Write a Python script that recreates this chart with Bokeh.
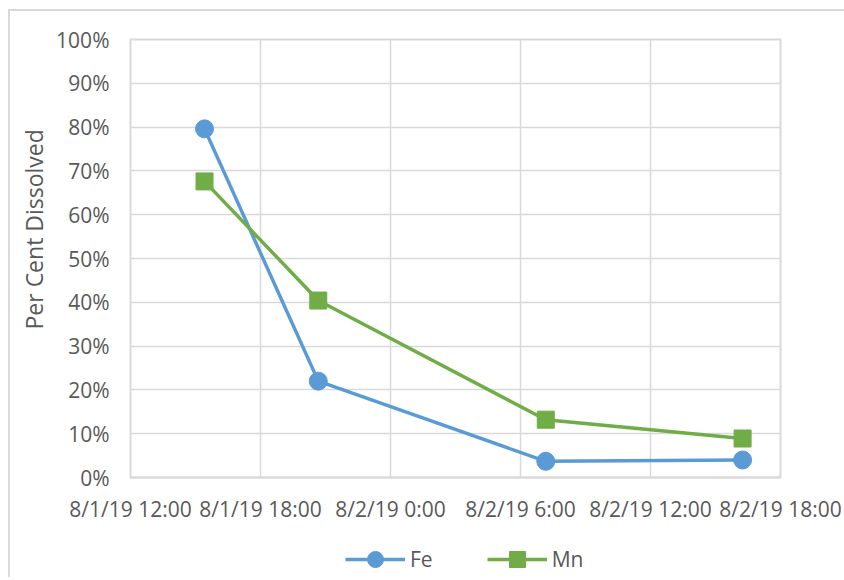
from datetime import datetime

from bokeh.plotting import figure
from bokeh.layouts import column
from bokeh.models import (ColumnDataSource, FixedTicker, NumeralTickFormatter,
                          Range1d, Legend, LegendItem, Title)
from bokeh.embed import file_html
from bokeh.resources import INLINE

# sampling times and dissolved fractions
sample_times = [datetime(2019, 8, 1, 15, 25), datetime(2019, 8, 1, 20, 40),
                datetime(2019, 8, 2, 7, 10), datetime(2019, 8, 2, 16, 15)]
fe_dissolved = [0.796, 0.220, 0.037, 0.040]
mn_dissolved = [0.676, 0.404, 0.132, 0.089]

tick_times = [datetime(2019, 8, 1, 12), datetime(2019, 8, 1, 18), datetime(2019, 8, 2, 0),
              datetime(2019, 8, 2, 6), datetime(2019, 8, 2, 12), datetime(2019, 8, 2, 18)]
tick_labels = ["8/1/19 12:00", "8/1/19 18:00", "8/2/19 0:00",
               "8/2/19 6:00", "8/2/19 12:00", "8/2/19 18:00"]
y_ticks = [i / 10 for i in range(11)]

FONT = "Open Sans"
TEXT = "#595959"
GRID = "#d9d9d9"
FE_COLOR = "#5B9BD5"
MN_COLOR = "#70AD47"

def ms(dt):
    return (dt - datetime(1970, 1, 1)).total_seconds() * 1000.0

src = ColumnDataSource(dict(t=sample_times, fe=fe_dissolved, mn=mn_dissolved))

# main chart
p = figure(width=834, height=514, x_axis_type="datetime",
           x_range=Range1d(tick_times[0], tick_times[-1]), y_range=Range1d(0, 1),
           output_backend="svg", toolbar_location=None,
           min_border_left=120, min_border_right=64, min_border_top=28, min_border_bottom=46)
p.background_fill_color = "white"
p.border_fill_color = "white"
p.outline_line_color = GRID
p.outline_line_width = 2

p.xaxis.ticker = FixedTicker(ticks=[ms(t) for t in tick_times])
p.xaxis.major_label_overrides = {ms(t): lab for t, lab in zip(tick_times, tick_labels)}
p.yaxis.ticker = FixedTicker(ticks=y_ticks)
p.yaxis.formatter = NumeralTickFormatter(format="0%")
for ax in (p.xaxis[0], p.yaxis[0]):
    ax.axis_line_color = None
    ax.major_tick_line_color = None
    ax.minor_tick_line_color = None
    ax.major_tick_out = 0
    ax.major_tick_in = 0
    ax.major_label_text_font = FONT
    ax.major_label_text_font_size = "21px"
    ax.major_label_text_color = TEXT
p.xaxis.axis_line_color = GRID
p.xaxis.axis_line_width = 2
p.xaxis.major_label_standoff = 17
p.yaxis.major_label_standoff = 21

p.xgrid.grid_line_color = GRID
p.ygrid.grid_line_color = GRID
p.xgrid.grid_line_width = 1.5
p.ygrid.grid_line_width = 1.5

fe_line = p.line("t", "fe", source=src, line_color=FE_COLOR, line_width=3.5)
fe_mark = p.scatter("t", "fe", source=src, marker="circle", size=18,
                    fill_color=FE_COLOR, line_color=FE_COLOR)
mn_line = p.line("t", "mn", source=src, line_color=MN_COLOR, line_width=3.5)
mn_mark = p.scatter("t", "mn", source=src, marker="square", size=17,
                    fill_color=MN_COLOR, line_color=MN_COLOR)

p.add_layout(Title(text="Per Cent Dissolved", align="left", offset=148, standoff=7,
                   text_font=FONT, text_font_size="23px", text_font_style="normal",
                   text_color=TEXT), "left")

# legend strip beneath the chart; its renderers share the series data but lie
# outside the strip's own ranges, so only the legend swatches show
q = figure(width=834, height=52, x_range=Range1d(0, 1), y_range=Range1d(0, 1),
           output_backend="svg", toolbar_location=None,
           x_axis_location=None, y_axis_location=None,
           min_border_left=120, min_border_right=64, min_border_top=0, min_border_bottom=0)
q.outline_line_color = None
q.grid.visible = False
q_fe_line = q.line("t", "fe", source=src, line_color=FE_COLOR, line_width=3.5)
q_fe_mark = q.scatter("t", "fe", source=src, marker="circle", size=18,
                      fill_color=FE_COLOR, line_color=FE_COLOR)
q_mn_line = q.line("t", "mn", source=src, line_color=MN_COLOR, line_width=3.5)
q_mn_mark = q.scatter("t", "mn", source=src, marker="square", size=17,
                      fill_color=MN_COLOR, line_color=MN_COLOR)

legend = Legend(items=[LegendItem(label="Fe", renderers=[q_fe_line, q_fe_mark]),
                       LegendItem(label="Mn", renderers=[q_mn_line, q_mn_mark])],
                orientation="horizontal", location=(215, -2),
                glyph_width=60, glyph_height=40, label_height=24, label_standoff=5,
                spacing=54, padding=0, margin=0,
                border_line_color=None, background_fill_alpha=0,
                label_text_font=FONT, label_text_font_size="21px", label_text_color=TEXT)
q.add_layout(legend, "center")

page = column(p, q, spacing=0, margin=(9, 0, 0, 8),
              styles={"border-left": "2px solid #d9d9d9", "border-top": "2px solid #d9d9d9"})

open("out.html", "w").write(file_html(page, INLINE))
